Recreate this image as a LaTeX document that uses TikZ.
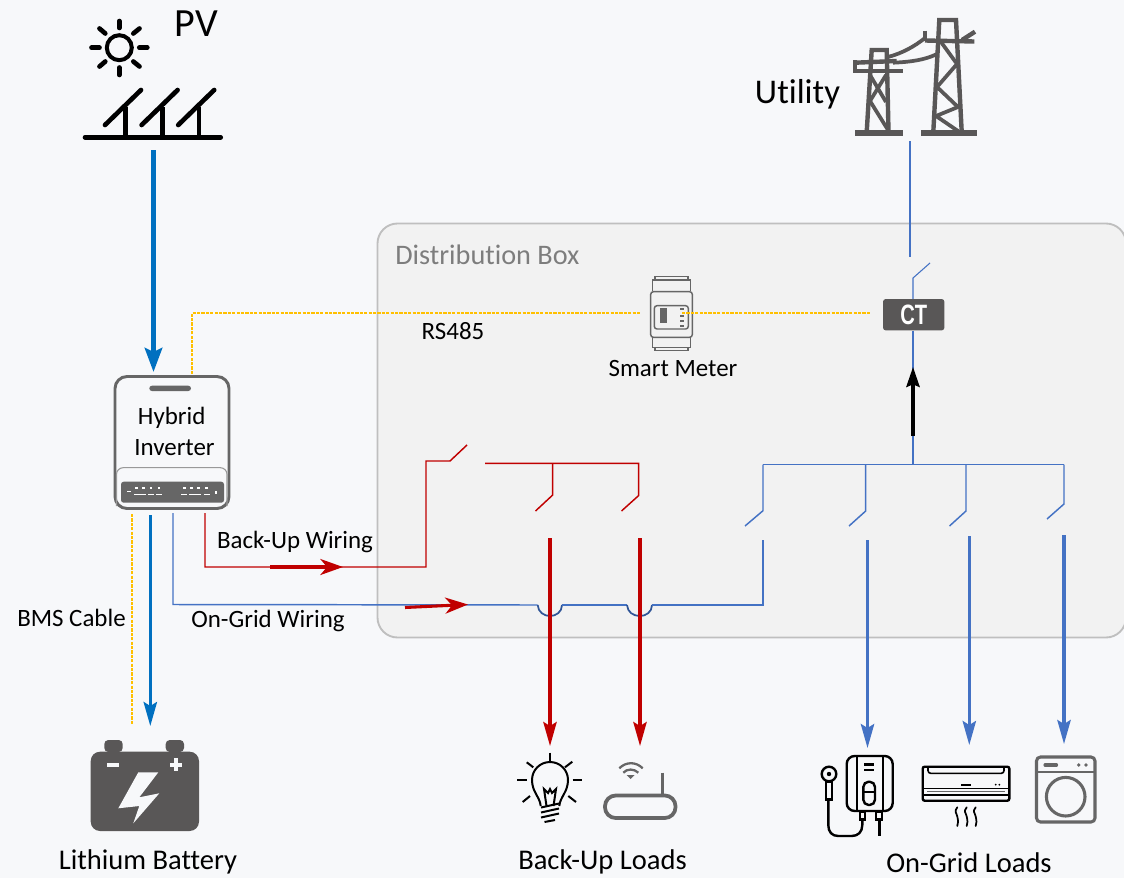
\documentclass[tikz,border=0pt]{standalone}
\usepackage{fontspec}
\setmainfont[Ligatures=NoCommon]{Carlito}
\newfontfamily\ctfont[FakeStretch=0.72]{Liberation Sans}
\usetikzlibrary{arrows.meta}
\definecolor{bgc}{HTML}{F7F8FA}
\definecolor{boxf}{HTML}{F2F2F2}
\definecolor{boxs}{HTML}{BFBFBF}
\definecolor{wblue}{HTML}{4472C4}
\definecolor{pblue}{HTML}{0070C0}
\definecolor{jblue}{HTML}{2F5597}
\definecolor{wred}{HTML}{C00000}
\definecolor{wyel}{HTML}{FFC000}
\definecolor{icon}{HTML}{595757}
\definecolor{igray}{HTML}{666666}
\tikzset{
 x=0.75pt,y=-0.75pt,
 lbl/.style={inner sep=0,yshift=-1pt,font=\fontsize{18.7}{20}\selectfont,text=black},
 biglbl/.style={lbl,font=\fontsize{21.4}{23}\selectfont},
 bwire/.style={draw=wblue,line width=1.1pt},
 rwire/.style={draw=wred,line width=1.1pt},
 ywire/.style={draw=wyel,line width=1pt,dash pattern=on 2.4pt off 0.9pt},
 thintip/.style={-{Stealth[length=18pt,width=10pt,inset=3pt]}},
 pvarrow/.style={draw=pblue,fill=pblue,line width=3.6pt,-{Stealth[length=18pt,width=13pt,inset=3pt,fill=pblue]}},
 batarrow/.style={draw=pblue,line width=2.3pt,thintip},
 redarrow/.style={draw=wred,line width=2.3pt,thintip},
 bluearrow/.style={draw=wblue,line width=2.3pt,thintip},
 flowarrow/.style={draw=wred,line width=2.3pt,-{Stealth[length=17pt,width=12pt,inset=5pt]}},
 blackarrow/.style={draw=black,line width=2.3pt,-{Stealth[length=15pt,width=10pt,inset=2pt]}},
 pvline/.style={draw=black,line width=3.5pt,line cap=round},
 tower/.style={draw=icon,line width=3.3pt},
 bulbl/.style={draw=black,line width=1.5pt},
 heat/.style={draw=black,line width=1.8pt},
 meterl/.style={draw=igray,line width=1.1pt},
}
\begin{document}
\begin{tikzpicture}
\useasboundingbox (0,0) rectangle (1124,878);
\fill[bgc] (0,0) rectangle (1124,878);
% distribution box
\draw[draw=boxs,fill=boxf,line width=1.4pt,rounded corners=15pt] (377.5,223.5) rectangle (1126,637.5);
\node[lbl,anchor=west,text=igray!85!white,font=\fontsize{21.2}{22}\selectfont] (dbox) at (395,253.5) {Distribution Box};

% PV icon
\draw[black,line width=3pt] (119.3,47.7) circle (12.5);
\draw[pvline] (119.3,28) -- (119.3,21);
\draw[pvline] (119.3,67.5) -- (119.3,75);
\draw[pvline] (99.5,47.7) -- (91.5,47.7);
\draw[pvline] (139.3,47.7) -- (147.3,47.7);
\draw[pvline] (105.3,33.5) -- (99.5,28.5);
\draw[pvline] (133.3,33.5) -- (139.5,28.5);
\draw[pvline] (105.3,61.5) -- (99.5,66.5);
\draw[pvline] (133.3,61.5) -- (139.5,66.5);
\foreach \d in {0,36.6,73.2}{
  \draw[pvline] (105+\d,125) -- (141+\d,90);
  \draw[draw=black,line width=3.5pt] (125.7+\d,107) -- (125.7+\d,137);
}
\draw[pvline] (85,137.3) -- (220.7,137.3);
\node[lbl,yshift=1pt,font=\fontsize{30}{32}\selectfont] (pv) at (196.5,24) {PV};

% utility icon
\node[lbl,font=\fontsize{26}{28}\selectfont] (utility) at (797.5,92.5) {Utility};
\draw[tower,line width=4.4pt] (855,132.7) -- (902.7,132.7);
\draw[tower,line width=4.4pt] (921,132.7) -- (977,132.7);
\draw[tower] (866.7,132) -- (871.7,50) -- (886.7,50) -- (888.5,132);
\draw[tower] (855,62.7) -- (896.7,61);
\draw[tower] (855,71) -- (902.7,71);
\draw[tower] (855,60) -- (855,73);
\draw[tower,line width=2.8pt] (886,75) -- (870,101) -- (888,130);
\draw[tower,line width=2.8pt] (870,75) -- (886,102);
\draw[tower] (933.3,132) -- (939.3,20) -- (956,20) -- (961.7,132);
\draw[tower] (925,40.5) -- (974.3,41.5);
\draw[tower] (925,30.7) -- (925,40.5);
\draw[tower] (962,40) -- (975,31.7);
\draw[tower,line width=2.8pt] (941,42) -- (957,64) -- (937,87) -- (958,107) -- (936,116) -- (958,131);
\draw[tower,line width=2.8pt] (888,57) .. controls (903,53) and (915,46) .. (925,38);
\draw[tower,line width=2.8pt] (893,62.7) .. controls (910,62) and (925,60) .. (937,54);

% inverter
\node[draw=igray,line width=2.2pt,rounded corners=9pt,minimum width=85.5pt,minimum height=99pt,inner sep=0,fill=bgc] (inv) at (172,442.5) {};
\fill[igray] (149.3,385.7) [rounded corners=2pt] rectangle (191,391);
\node[lbl] (hyb) at (171.7,417) {Hybrid};
\node[lbl] (invt) at (174.5,446.5) {Inverter};
\draw[draw=gray!80,line width=0.8pt,rounded corners=5pt] (116.5,506) -- (116.5,467.7) -- (227,467.7) -- (227,506);
\fill[igray,rounded corners=2pt] (121,481.7) rectangle (224,502.7);
\foreach \q in {136.7,143.3,151,159,184.3,191.7,198.3,206.7}{
  \fill[white] (\q-1.4,487) rectangle (\q+1.4,489.3);
  \fill[white] (\q-3,493.5) rectangle (\q+3,495);
}
\fill[white] (126.5,490.5) rectangle (130.5,492);
\fill[white] (215,490.5) rectangle (216.5,494);

% named wire ends
\coordinate (pvA) at (153.5,150); \coordinate (pvB) at (153.5,372);
\coordinate (y1) at (192,374); \coordinate (y2) at (192,313); \coordinate (y3) at (640,313);
\coordinate (y4) at (682,313); \coordinate (y5) at (870,313);
\coordinate (y6) at (132,514); \coordinate (y7) at (132,725);

% CT
\node[fill=icon,rounded corners=2pt,minimum width=46pt,minimum height=23.5pt,inner sep=0,text=white,font=\ctfont\bfseries\fontsize{21}{21}\selectfont] (ct) at (913.7,314.7) {CT};

% meter
\draw[meterl] (655,280) -- (655,276.7) -- (688,276.7) -- (688,280);
\draw[meterl] (652.7,291) -- (652.7,280) -- (690.7,280) -- (690.7,291);
\draw[meterl,rounded corners=2pt] (650.7,291.7) rectangle (692.3,337.3);
\draw[meterl] (652.7,337) -- (652.7,347.3) -- (690.7,347.3) -- (690.7,337);
\draw[meterl] (655,347.3) -- (655,350.7) -- (688,350.7) -- (688,347.3);
\draw[meterl,rounded corners=2pt] (654.3,305.7) rectangle (688.3,329);
\fill[igray] (660.3,308.3) rectangle (667,323.3);
\foreach \w in {309.3,315.7,320.7,325.7}
  \fill[igray] (680,\w-1) rectangle (683.5,\w+1);
\node[lbl] (meter) at (673,367.5) {Smart Meter};

% yellow
\draw[ywire] (y1) -- (y2) -- (y3);
\draw[ywire] (y4) -- (y5);
\draw[ywire] (y6) -- (y7);
\node[lbl] (rs) at (453,329.5) {RS485};

% pv / battery arrows
\draw[pvarrow] (pvA) -- (pvB);
\coordinate (bat1) at (150.3,515); \coordinate (bat2) at (150.3,726);
\draw[batarrow] (bat1) -- (bat2);

% blue utility side
\coordinate (u1) at (910,141); \coordinate (u2) at (910,257);
\coordinate (ub) at (930,263); \coordinate (ua) at (913,278);
\coordinate (bus) at (913,464.5);
\draw[bwire,line width=0.8pt] (u1) -- (u2);
\draw[bwire,line width=0.8pt] (ub) -- (ua) -- (ct.north -| ua);
\draw[bwire] (ct.south -| ua) -- (bus);
\coordinate (ba) at (913,436); \coordinate (bb) at (913,367);
\draw[blackarrow] (ba) -- (bb);

% blue bus and switches
\coordinate (b1) at (763,464.5); \coordinate (b4) at (1064,464.5);
\draw[bwire] (b1) -- (b4);
\foreach \xx/\yy/\xe/\ye in {763/510.7/745/526, 865.7/511/849/526, 966/511/949.5/526, 1064/504/1047/519}
  \draw[bwire] (\xx,464.5) -- (\xx,\yy) -- (\xe,\ye);

% on-grid wire
\coordinate (g0) at (173,513); \coordinate (g1) at (173,604.5);
\coordinate (g2) at (537.7,605); \coordinate (g3) at (562,605);
\coordinate (g4) at (627,605); \coordinate (g5) at (652,605);
\coordinate (g6) at (763,605); \coordinate (g7) at (763,540);
\draw[bwire] (g0) -- (g1) -- (g2);
\draw[draw=jblue,line width=1.3pt] (g2) .. controls (538,612) and (544,616) .. (550,616) .. controls (556,616) and (562,612) .. (g3);
\draw[bwire] (g3) -- (g4);
\draw[draw=jblue,line width=1.3pt] (g4) .. controls (627.5,612) and (633,616) .. (640,616) .. controls (646,616) and (652,612) .. (g5);
\draw[bwire] (g5) -- (g6) -- (g7);

% red wires
\coordinate (r0) at (205,513); \coordinate (r1) at (205,567); \coordinate (r2) at (426,567);
\coordinate (r3) at (426,461); \coordinate (r4) at (450,461); \coordinate (r5) at (467,445);
\draw[rwire] (r0) -- (r1) -- (r2) -- (r3) -- (r4) -- (r5);
\coordinate (r6) at (485,463.3); \coordinate (r7) at (638.7,463.3);
\draw[rwire] (r6) -- (r7) -- (638.7,495.5) -- (621.5,511);
\draw[rwire] (552.7,463.3) -- (552.7,495) -- (535.5,511);

% load arrows
\draw[redarrow] (550,538) -- (550,746);
\draw[redarrow] (640,538) -- (640,746);
\draw[bluearrow] (867.5,540) -- (867.5,748);
\draw[bluearrow] (969.3,536) -- (969.3,745);
\draw[bluearrow] (1064,535) -- (1064,744);

% flow arrows
\draw[flowarrow] (270,567) -- (343,567);
\draw[flowarrow] (405,607.5) -- (468,604.5);

% labels
\node[lbl] (bu) at (295,540.5) {Back-Up Wiring};
\node[lbl] (og) at (268,619.5) {On-Grid Wiring};
\node[lbl] (bms) at (71.5,616.5) {BMS Cable};
\node[biglbl] (lb) at (148,861) {Lithium Battery};
\node[biglbl] (bl) at (602.5,861) {Back-Up Loads};
\node[biglbl] (ol) at (969,861) {On-Grid Loads};

% battery
\fill[icon,rounded corners=3pt] (104.3,740) rectangle (122.7,752);
\fill[icon,rounded corners=3pt] (165.7,740) rectangle (184,752);
\fill[icon,rounded corners=7pt] (90.7,751.7) rectangle (199,831);
\fill[bgc] (106.7,762.7) rectangle (119,766.7);
\fill[bgc] (169.5,762.5) rectangle (182,766.5);
\fill[bgc] (173.8,758) rectangle (177.8,771);
\fill[bgc] (138.3,772.3) -- (158.3,772.3) -- (139.3,797.3) -- (159.3,793.3) -- (133.3,823.3) -- (139.3,806) -- (118.3,808.3) -- cycle;

% bulb
\draw[bulbl] (540.7,806) .. controls (540,797) and (532,792) .. (532,780) .. controls (532,770) and (540,762) .. (550,762) .. controls (560,762) and (568,770) .. (568,780) .. controls (568,792) and (560,797) .. (559.3,806);
\draw[bulbl] (546.5,806) -- (544,789) -- (548,793) -- (550,789) -- (552,793) -- (556,789) -- (553.5,806);
\draw[bulbl] (541,807.5) -- (559,803.5);
\draw[bulbl] (541,812.5) -- (559,808.5);
\draw[bulbl] (541,817.5) -- (559,813.5);
\draw[bulbl] (544.5,822) -- (555,820);
\draw[bulbl] (550,752.7) -- (550,760.7);
\draw[bulbl] (572.7,780) -- (582,780);
\draw[bulbl] (517.3,780) -- (526.7,780);
\draw[bulbl] (526.7,762.3) -- (533.3,767.3);
\draw[bulbl] (565,767.3) -- (572.3,761.7);
\draw[bulbl] (522.7,802) -- (530,796);
\draw[bulbl] (568.3,796) -- (576,802);

% router
\draw[draw=igray,line width=2.8pt,rounded corners=8pt] (605,795.5) rectangle (675.5,818);
\draw[draw=igray,line width=2.4pt] (662.7,772.7) -- (662.7,795);
\draw[draw=igray,line width=1.7pt] (619.3,768.3) .. controls (626,761.5) and (636,761.5) .. (642.7,768.3);
\draw[draw=igray,line width=1.7pt] (623.3,772.7) .. controls (627,768.5) and (634,768.5) .. (638.3,772.7);
\fill[igray] (626.7,775) -- (634.7,775) -- (630.7,779) -- cycle;

% water heater
\draw[heat,rounded corners=6pt] (846.7,756) rectangle (892.7,811);
\draw[heat] (856.7,756) -- (856.7,811);
\draw[heat] (882.7,756) -- (882.7,811);
\draw[heat] (864.3,764.3) -- (874,764.3);
\draw[heat] (864.3,770) -- (874,770);
\draw[heat,rounded corners=4pt] (863.3,781.7) rectangle (875,805);
\draw[heat] (863.3,791.7) -- (875,791.7);
\draw[heat] (860,811.7) rectangle (865,819.3);
\draw[heat] (876,811.7) rectangle (881.7,819.3);
\draw[heat] (879.3,819) -- (879.3,836);
\draw[heat] (862.3,819) -- (862.3,825) .. controls (862.3,832) and (858,836) .. (851.7,836) -- (838.3,836) .. controls (832,836) and (828.3,832) .. (828.3,825) -- (828.3,798);
\draw[heat] (829,774) circle (7.3);
\fill[black] (829,774) circle (2.2);
\draw[heat] (825.7,781.7) rectangle (831.7,799.3);

% air conditioner
\draw[heat,rounded corners=1.5pt] (922.7,766.7) rectangle (1009.3,800.7);
\draw[draw=black,line width=1.2pt,rounded corners=2pt] (928,767.3) -- (928,773.3) -- (1004,773.3) -- (1004,767.3);
\draw[draw=black,line width=1.2pt] (961,784.7) -- (971,784.7);
\fill[black] (995.7,784.7) circle (1); \fill[black] (999.3,784.7) circle (1);
\draw[draw=black,line width=1.2pt] (923,788.3) -- (1009,788.3);
\draw[draw=black!60,line width=0.9pt] (927,791.5) -- (1005,791.5);
\draw[draw=black,line width=1.1pt] (923,795) -- (1009,795);
\foreach \sx in {957.3,966.7,975.7}
  \draw[draw=black,line width=1.3pt,line cap=round] (\sx,807.3) .. controls (\sx-3.5,812) and (\sx-1,812) .. (\sx,816.5) .. controls (\sx+1,821) and (\sx+1,823) .. (\sx,826);

% washer
\draw[draw=igray,line width=2.3pt,rounded corners=3pt] (1036.5,757) rectangle (1095,822);
\draw[draw=igray,line width=1.7pt] (1036.5,771.7) -- (1095,771.7);
\draw[draw=igray,line width=2.4pt,line cap=round] (1045,765) -- (1056.5,765);
\fill[igray] (1078.7,765) circle (1.8); \fill[igray] (1086,765) circle (1.8);
\draw[draw=igray,line width=2.3pt] (1065.7,796.7) circle (19.3);
\end{tikzpicture}
\end{document}
